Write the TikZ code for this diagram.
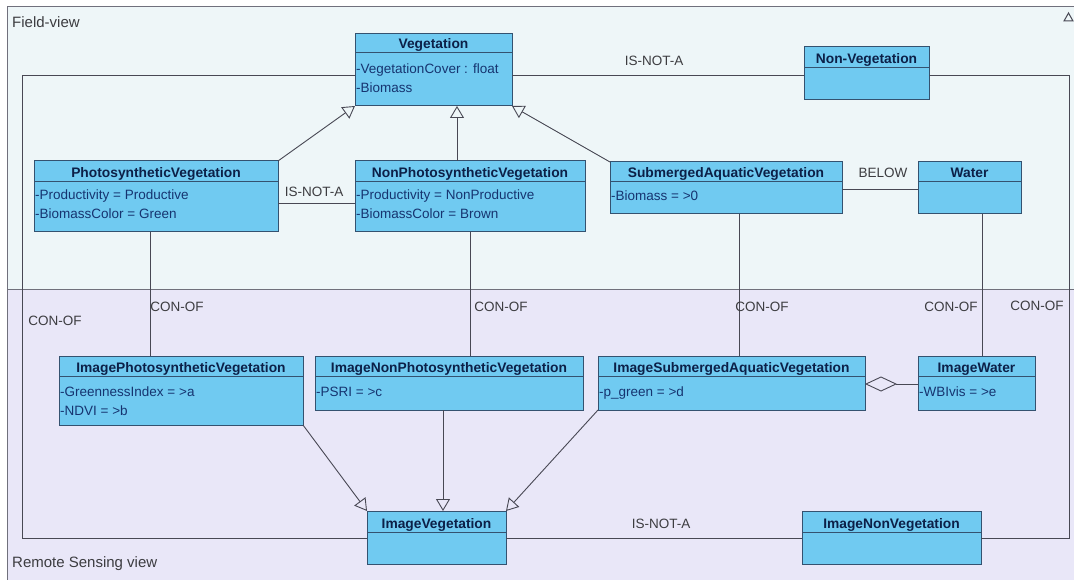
\documentclass[tikz,border=0pt]{standalone}
\usepackage{fontspec}
\setmainfont{Liberation Sans}
\usetikzlibrary{arrows.meta}
\definecolor{fieldbg}{RGB}{238,246,248}
\definecolor{remotebg}{RGB}{233,231,248}
\definecolor{boxfill}{RGB}{112,202,241}
\definecolor{boxborder}{RGB}{52,82,112}
\definecolor{titlecol}{RGB}{12,32,72}
\definecolor{attrcol}{RGB}{22,52,112}
\definecolor{lblcol}{RGB}{60,60,64}
\definecolor{linecol}{RGB}{72,72,84}
\definecolor{panelcol}{RGB}{112,112,124}
\tikzset{
  cls/.style={draw=boxborder, fill=boxfill, line width=1pt, inner sep=0pt, outer sep=0pt, anchor=north west},
  hdrline/.style={draw=boxborder, line width=1pt},
  ttl/.style={font=\fontsize{13.8}{16}\selectfont\bfseries, text=titlecol, inner sep=0pt, anchor=base},
  attr/.style={font=\fontsize{13.5}{16}\selectfont, text=attrcol, inner sep=0pt, anchor=base west},
  lbl/.style={font=\fontsize{13.5}{16}\selectfont, text=lblcol, inner sep=0pt},
  panellbl/.style={font=\fontsize{15}{17}\selectfont, text=lblcol, inner sep=0pt, anchor=base west},
  conn/.style={draw=linecol, line width=0.9pt},
  gen/.style={conn, -{Triangle[open, length=12pt, width=14pt]}},
  agg/.style={conn, -{Diamond[open, length=32pt, width=15pt]}},
  panel/.style={draw=panelcol, line width=1pt}
}
% name, x1, y1, x2, y2, header y, title
\newcommand\umlbox[7]{%
  \node[cls, minimum width={(#4-#2)*1pt}, minimum height={(#5-#3)*1pt}] (#1) at (#2,#3) {};
  \draw[hdrline] (#2,#6) -- (#4,#6);
  \node[ttl] (#1-title) at ({(#2+#4)/2},{#6-4}) {#7};
}
\begin{document}
\begin{tikzpicture}[x=1pt,y=-1pt]
\useasboundingbox (0,0) rectangle (1074,580);
\fill[white] (0,0) rectangle (1074,580);
\fill[fieldbg] (7,7) rectangle (1074,289);
\fill[remotebg] (7,289) rectangle (1074,580);
\draw[panel] (1074,7) -- (7,7) -- (7,580);
\draw[panel] (7,289) -- (1074,289);
\draw[draw=linecol, line width=1pt] (1064,21) -- (1068.5,13) -- (1073,21) -- cycle;
\node[panellbl] (fv) at (12,28) {Field-view};
\node[panellbl] (rsv) at (12,567) {Remote Sensing view};

% class boxes
\umlbox{veg}{355}{34}{512}{106}{53}{Vegetation}
\node[attr] (veg-a1) at (356,74) {-VegetationCover : float};
\node[attr] (veg-a2) at (356,93) {-Biomass};
\umlbox{nonveg}{804}{47}{929}{100}{68}{Non-Vegetation}

\umlbox{photo}{34}{161}{278}{232}{182}{PhotosyntheticVegetation}
\node[attr] (photo-a1) at (35,200) {-Productivity = Productive};
\node[attr] (photo-a2) at (35,219) {-BiomassColor = Green};
\umlbox{nonphoto}{355}{161}{585}{232}{182}{NonPhotosyntheticVegetation}
\node[attr] (nonphoto-a1) at (356,200) {-Productivity = NonProductive};
\node[attr] (nonphoto-a2) at (356,219) {-BiomassColor = Brown};
\umlbox{sub}{610}{162}{842}{214}{182}{SubmergedAquaticVegetation}
\node[attr] (sub-a1) at (611,201) {-Biomass = >0};
\umlbox{water}{918}{162}{1021}{214}{182}{Water}

\umlbox{imgphoto}{59}{356}{303}{425}{376}{ImagePhotosyntheticVegetation}
\node[attr] (imgphoto-a1) at (60,396) {-GreennessIndex = >a};
\node[attr] (imgphoto-a2) at (60,415) {-NDVI = >b};
\umlbox{imgnonphoto}{315}{356}{583}{410}{376}{ImageNonPhotosyntheticVegetation}
\node[attr] (imgnonphoto-a1) at (316,396) {-PSRI = >c};
\umlbox{imgsub}{598}{356}{865}{410}{376}{ImageSubmergedAquaticVegetation}
\node[attr] (imgsub-a1) at (599,396) {-p\_green = >d};
\umlbox{imgwater}{918}{356}{1035}{410}{376}{ImageWater}
\node[attr] (imgwater-a1) at (919,396) {-WBIvis = >e};

\umlbox{imgveg}{367}{511}{506}{564}{532}{ImageVegetation}
\umlbox{imgnonveg}{802}{511}{981}{564}{532}{ImageNonVegetation}

% loop (IS-NOT-A / CON-OF)
\coordinate (lt) at (22,75);
\coordinate (lb) at (22,538);
\coordinate (rt) at (1069,75);
\coordinate (rb) at (1069,538);
\draw[conn] (veg.west |- lt) -- (lt) -- (lb) -- (imgveg.west |- lb);
\draw[conn] (veg.east |- lt) -- (nonveg.west |- lt);
\draw[conn] (nonveg.east |- rt) -- (rt) -- (rb) -- (imgnonveg.east |- rb);
\draw[conn] (imgveg.east |- rb) -- (imgnonveg.west |- rb);

% associations
\coordinate (pn) at (0,203);
\draw[conn] (photo.east |- pn) -- (nonphoto.west |- pn);
\coordinate (bw) at (0,189);
\draw[conn] (sub.east |- bw) -- (water.west |- bw);

% CON-OF verticals
\coordinate (c1) at (150,0);
\coordinate (c2) at (470,0);
\coordinate (c3) at (739,0);
\coordinate (c4) at (982,0);
\draw[conn] (photo.south -| c1) -- (imgphoto.north -| c1);
\draw[conn] (nonphoto.south -| c2) -- (imgnonphoto.north -| c2);
\draw[conn] (sub.south -| c3) -- (imgsub.north -| c3);
\draw[conn] (water.south -| c4) -- (imgwater.north -| c4);

% generalizations
\coordinate (g2) at (457,0);
\coordinate (g5) at (443,0);
\draw[gen] (photo.north east) -- (veg.south west);
\draw[gen] (nonphoto.north -| g2) -- (veg.south -| g2);
\draw[gen] (sub.north west) -- (veg.south east);
\draw[gen] (imgphoto.south east) -- (imgveg.north west);
\draw[gen] (imgnonphoto.south -| g5) -- (imgveg.north -| g5);
\draw[gen] (imgsub.south west) -- (imgveg.north east);

% aggregation
\coordinate (ag) at (0,384);
\draw[agg] (imgwater.west |- ag) -- (imgsub.east |- ag);

% labels
\node[lbl] (l1) at (654,61) {IS-NOT-A};
\node[lbl] (l2) at (314,192) {IS-NOT-A};
\node[lbl] (l3) at (883,173) {BELOW};
\node[lbl] (l4) at (55,321) {CON-OF};
\node[lbl] (l5) at (177,307) {CON-OF};
\node[lbl] (l6) at (501,307) {CON-OF};
\node[lbl] (l7) at (762,307) {CON-OF};
\node[lbl] (l8) at (951,307) {CON-OF};
\node[lbl] (l9) at (1037,306) {CON-OF};
\node[lbl] (l10) at (661,524) {IS-NOT-A};
\end{tikzpicture}
\end{document}
